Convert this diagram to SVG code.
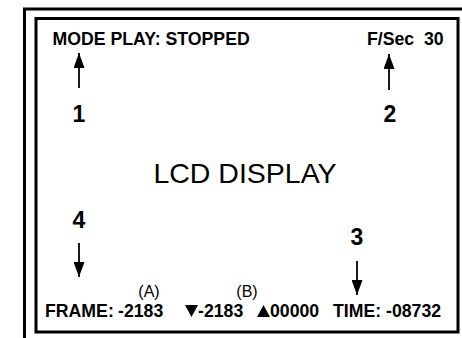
<svg xmlns="http://www.w3.org/2000/svg" width="462" height="338" viewBox="0 0 462 338">
<style>
.b{font-family:"Liberation Sans",Arial,sans-serif;font-weight:bold;font-size:17.7px;fill:#000}
.r{font-family:"Liberation Sans",Arial,sans-serif;fill:#000}
.n{font-family:"Liberation Sans",Arial,sans-serif;font-weight:bold;font-size:23px;fill:#000;text-anchor:middle}
.frame{fill:none;stroke:#000;stroke-width:3}
.conn{stroke:#000;stroke-width:1.8;fill:none}
</style>
<defs>
<marker id="ah" markerUnits="userSpaceOnUse" markerWidth="15" markerHeight="11" refX="15" refY="5.5" orient="auto">
<path d="M0,0 L15,5.5 L0,11 z" fill="#000"/>
</marker>
</defs>
<rect width="462" height="338" fill="#fff"/>
<g id="outer-frame"><rect class="frame" x="24.5" y="9" width="460" height="350"/></g>
<g id="lcd-display">
<rect class="frame" x="36" y="18.5" width="422" height="313.5"/>
<text class="r" x="245" y="183" font-size="28.5" text-anchor="middle">LCD DISPLAY</text>
</g>
<g id="mode-play"><text class="b" x="52.5" y="45">MODE PLAY: STOPPED</text></g>
<g id="fps"><text class="b" x="367" y="45" xml:space="preserve">F/Sec  30</text></g>
<g id="label-1"><text class="n" x="79" y="122">1</text></g>
<g id="label-2"><text class="n" x="390" y="122">2</text></g>
<g id="label-3"><text class="n" x="357" y="245">3</text></g>
<g id="label-4"><text class="n" x="79" y="228">4</text></g>
<g id="label-a"><text class="r" x="149" y="297" font-size="16" text-anchor="middle">(A)</text></g>
<g id="label-b"><text class="r" x="247" y="297" font-size="16" text-anchor="middle">(B)</text></g>
<g id="status-line">
<text class="b" x="45" y="317">FRAME:</text>
<text class="b" x="118" y="317">-2183</text>
<polygon points="185,305 198,305 191.5,317" fill="#000"/>
<text class="b" x="198" y="317">-2183</text>
<polygon points="257,317 270,317 263.5,305" fill="#000"/>
<text class="b" x="270" y="317">00000</text>
<text class="b" x="333" y="317">TIME: -08732</text>
</g>
<g id="connectors">
<line class="conn" x1="79" y1="88" x2="79" y2="53" marker-end="url(#ah)"/>
<line class="conn" x1="389" y1="90" x2="389" y2="54" marker-end="url(#ah)"/>
<line class="conn" x1="79" y1="243" x2="79" y2="277" marker-end="url(#ah)"/>
<line class="conn" x1="357" y1="261" x2="357" y2="295" marker-end="url(#ah)"/>
</g>
</svg>
